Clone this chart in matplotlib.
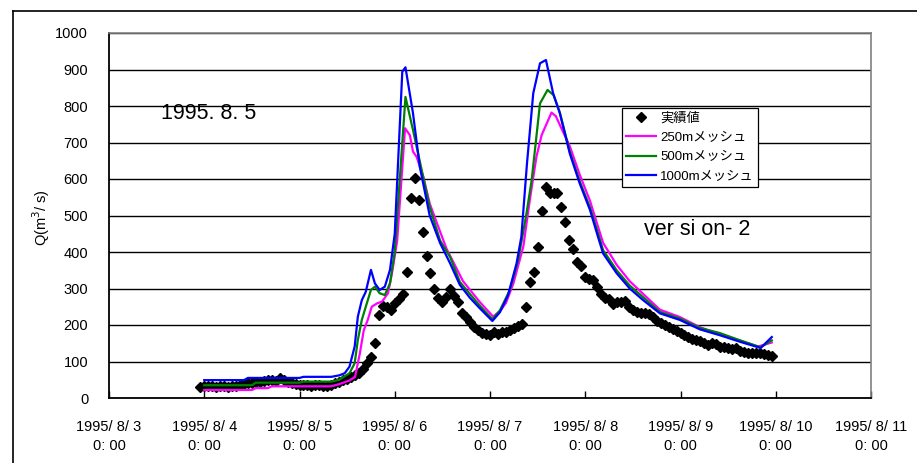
import matplotlib
matplotlib.use("Agg")
import matplotlib.pyplot as plt
import matplotlib.dates as mdates
from matplotlib.ticker import FuncFormatter
from matplotlib.lines import Line2D
from datetime import datetime, timedelta

plt.rcParams['font.family'] = ['Liberation Sans', 'Noto Sans CJK JP', 'DejaVu Sans']

# ---------------- data (hours after 1995/8/3 0:00) ----------------
base_time = datetime(1995, 8, 3)

obs_hours = list(range(23, 168))
obs_values = [30, 33, 32, 33, 31, 32, 33, 31, 33, 34, 36, 38, 40, 42, 44, 45, 46, 48, 50, 47,
              55, 50, 45, 42, 38, 36, 35, 36, 34, 35, 36, 33, 34, 36, 40, 44, 48, 52, 57, 62,
              68, 80, 95, 111, 150, 227, 252, 249, 241, 259, 270, 285, 346, 548, 603, 542, 455, 390, 343, 298,
              274, 263, 278, 300, 280, 264, 233, 223, 209, 195, 186, 179, 175, 172, 180, 176, 182, 180, 186, 191,
              197, 202, 250, 318, 346, 415, 513, 579, 561, 562, 563, 524, 481, 432, 408, 372, 362, 332, 326, 323,
              303, 284, 275, 271, 258, 262, 264, 267, 250, 240, 236, 234, 232, 230, 221, 212, 205, 200, 195, 190,
              184, 177, 172, 167, 163, 159, 155, 150, 145, 152, 148, 141, 139, 136, 133, 136, 130, 126, 122, 124,
              122, 122, 120, 118, 115]

m250_hours = [24, 36, 37, 40, 41, 56, 58, 60.6, 62, 63.2, 64.2, 65.2, 66.2, 67.5, 68.8, 70.3, 71.3, 72.6,
              74.6, 75.8, 76.6, 77.5, 79.2, 80.8, 82.5, 85, 89.2, 93.5, 96.8, 98.5, 100, 101.9, 104.4, 106,
              107.7, 109, 111.5, 112.6, 113.6, 116.1, 118.6, 121.2, 123.2, 124.5, 127.9, 131.2, 134.6, 138.8,
              143.8, 148.9, 153.9, 159, 163.5, 167]
m250_values = [22, 22, 27, 27, 32, 32, 38, 48, 58, 122, 186, 214, 250, 259, 264, 287, 342, 430,
               739, 720, 675, 661, 606, 533, 483, 410, 320, 262, 223, 238, 260, 314, 415, 540,
               661, 720, 782, 772, 748, 690, 612, 540, 470, 425, 365, 320, 285, 242,
               222, 194, 174, 157, 141, 152]

m500_hours = [24, 36, 37, 48, 49, 56, 58, 60.6, 61.9, 62.7, 63.7, 64.7, 66, 67, 68.2, 69.5, 70.8, 72,
              74.7, 76.6, 80.8, 83.4, 86, 88.4, 91, 93.5, 96.6, 98.5, 101, 103.1, 105.2, 106.5, 108.6,
              110.5, 112, 113.6, 116.1, 118.6, 121.2, 123.2, 124.5, 127.9, 131.2, 134.6, 138.8, 143.8,
              148.9, 153.9, 159, 164.2, 167]
m500_values = [35, 35, 42, 42, 45, 45, 50, 68, 95, 159, 214, 250, 296, 305, 287, 282, 314, 400,
               825, 734, 524, 432, 385, 318, 284, 252, 216, 240, 296, 378, 506, 597, 807,
               844, 830, 782, 675, 594, 522, 452, 405, 350, 308, 276, 236, 218,
               192, 178, 158, 139, 158]

m1000_hours = [24, 34, 35, 48, 49, 56, 58, 59.4, 60.6, 61.9, 62.7, 63.7, 64.7, 66, 67, 68.2, 69.5, 70.8,
               72, 73.9, 74.7, 76.6, 78.3, 80.8, 83.4, 85.9, 88.4, 90.9, 93.5, 96.6, 98.5, 100.5, 102.7,
               103.9, 105.3, 106.9, 108.6, 110.1, 111.9, 113.6, 116.1, 118.6, 121.2, 123.2, 124.5, 127.9,
               131.2, 134.6, 138.8, 143.8, 148.9, 153.9, 159, 164.2, 167]
m1000_values = [49, 49, 55, 55, 58, 58, 62, 68, 86, 141, 223, 268, 291, 351, 314, 296, 305, 351,
                450, 894, 906, 780, 634, 500, 425, 370, 310, 275, 245, 211, 235, 280, 369,
                442, 640, 835, 917, 926, 835, 780, 670, 588, 515, 442, 396, 342,
                300, 268, 232, 214, 188, 172, 154, 137, 167]

series_labels = ['実績値', '250mメッシュ', '500mメッシュ', '1000mメッシュ']
y_ticks = list(range(0, 1001, 100))


def to_time(hours):
    return [base_time + timedelta(hours=h) for h in hours]


# ---------------- figure ----------------
fig = plt.figure(figsize=(9.17, 4.63), dpi=100)
ax = fig.add_axes([109 / 917, 1 - 398 / 463, 762 / 917, 365 / 463])

ax.plot(to_time(obs_hours), obs_values, linestyle='none', marker='D', markersize=4.6,
        color='black', label=series_labels[0], zorder=3)
ax.plot(to_time(m250_hours), m250_values, color='#FF00FF', lw=1.6, label=series_labels[1], zorder=4)
ax.plot(to_time(m500_hours), m500_values, color='#008000', lw=1.6, label=series_labels[2], zorder=5)
ax.plot(to_time(m1000_hours), m1000_values, color='#0000FF', lw=1.6, label=series_labels[3], zorder=6)

ax.set_xlim(base_time, base_time + timedelta(days=8))
ax.set_ylim(0, 1000)
ax.set_yticks(y_ticks)
ax.xaxis.set_major_locator(mdates.DayLocator())


def fmt_date(x, pos):
    d = mdates.num2date(x)
    return f"{d.year}/ {d.month}/ {d.day}\n{d.hour}: {d.minute:02d}"


ax.xaxis.set_major_formatter(FuncFormatter(fmt_date))
ax.tick_params(axis='x', direction='in', length=5, width=1, pad=16, labelsize=10.5)
ax.tick_params(axis='y', length=0, pad=15, labelsize=10.5)
for lab in ax.get_xticklabels():
    lab.set_linespacing(1.45)

ax.grid(axis='y', color='black', lw=1.0)
ax.set_axisbelow(True)
ax.spines['left'].set_color('black')
ax.spines['bottom'].set_color('black')
ax.spines['left'].set_linewidth(1.3)
ax.spines['bottom'].set_linewidth(1.3)
ax.spines['top'].set_color('#808080')
ax.spines['right'].set_color('#808080')
ax.spines['top'].set_linewidth(1.2)
ax.spines['right'].set_linewidth(1.2)

ax.text(0.068, 0.78, '1995. 8. 5', transform=ax.transAxes, fontsize=15.5, va='center', ha='left')
ax.text(0.702, 0.463, 'ver si on- 2', transform=ax.transAxes, fontsize=15.5, va='center', ha='left')

fig.text(41 / 917, 1 - 218 / 463, 'Q(m$^{3}$/ s)', rotation=90, fontsize=10.5, ha='center', va='center')

leg = ax.legend(loc='upper left', bbox_to_anchor=(0.673, 0.7945), bbox_transform=ax.transAxes,
                borderaxespad=0, fancybox=False, edgecolor='black', framealpha=1, fontsize=9.5,
                handlelength=2.3, labelspacing=0.55, borderpad=0.3, handletextpad=0.3)
leg.get_frame().set_linewidth(0.9)
leg.set_zorder(10)

# outer chart frame (left and top edges visible)
fig.add_artist(Line2D([12.5 / 917, 12.5 / 917], [-0.05, 1 - 11 / 463], transform=fig.transFigure,
                      color='black', lw=1.2))
fig.add_artist(Line2D([12.5 / 917, 1.05], [1 - 11 / 463, 1 - 11 / 463], transform=fig.transFigure,
                      color='black', lw=1.2))

fig.savefig('out.png', dpi=100)
